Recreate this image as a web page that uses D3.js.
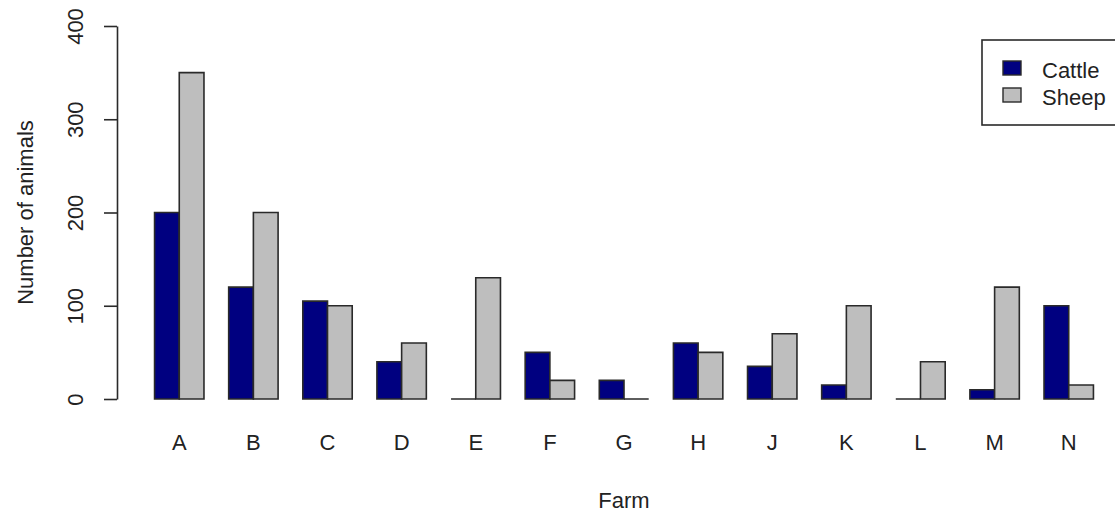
<!DOCTYPE html>
<html>
<head>
<meta charset="utf-8">
<script src="https://cdn.jsdelivr.net/npm/d3@7"></script>
<style>
	body { margin: 0; background: #fff; }
	svg text { font-family: 'Liberation Sans', Arial, sans-serif; font-size: 22px; fill: #222; }
</style>
</head>
<body>
<div id="graphic"></div>
<script>
// chart data
const farms = ['A', 'B', 'C', 'D', 'E', 'F', 'G', 'H', 'J', 'K', 'L', 'M', 'N'];
const cattle = [200, 120, 105, 40, 0, 50, 20, 60, 35, 15, 0, 10, 100];
const sheep = [350, 200, 100, 60, 130, 20, 0, 50, 70, 100, 40, 120, 15];
const seriesNames = ['Cattle', 'Sheep'];
const seriesColours = ['#000080', '#bebebe'];
const yTicks = [0, 100, 200, 300, 400];

let graphic = d3.select('#graphic');

function drawGraphic() {
	let width = 1115, height = 515;

	let svg = graphic
		.append('svg')
		.attr('width', width)
		.attr('height', height);

	//bar units like R barplot: each bar 1 unit wide, 1 unit gap before each group
	const x = d3.scaleLinear().domain([-0.52, 40.52]).range([117, 1131]);
	const y = d3.scaleLinear().domain([0, 400]).range([399, 26]);
	const sub = d3.scaleBand().domain(seriesNames).range([0, 2]);

	let groupLeft = (i) => 1 + 3 * i;

	let data = farms.map((f, i) => ({ farm: f, i: i, values: [cattle[i], sheep[i]] }));

	//bars drawn as paths so that zero bars still show their outline
	let groups = svg.selectAll('g.farm')
		.data(data)
		.join('g')
		.attr('class', 'farm');

	groups.selectAll('path')
		.data((d) => d.values.map((v, k) => ({ i: d.i, key: seriesNames[k], k: k, value: v })))
		.join('path')
		.attr('d', (d) => {
			let x0 = x(groupLeft(d.i) + sub(d.key));
			let x1 = x(groupLeft(d.i) + sub(d.key) + sub.bandwidth());
			let p = d3.path();
			p.moveTo(x0, y(0));
			p.lineTo(x0, y(d.value));
			p.lineTo(x1, y(d.value));
			p.lineTo(x1, y(0));
			p.closePath();
			return p.toString();
		})
		.attr('fill', (d) => seriesColours[d.k])
		.attr('stroke', '#2a2a2a')
		.attr('stroke-width', 1.6);

	//y axis
	let yAxis = d3.axisLeft(y).tickValues(yTicks).tickSize(13).tickSizeOuter(0);
	let ya = svg.append('g')
		.attr('transform', 'translate(117,0)')
		.call(yAxis);
	ya.select('.domain').attr('stroke', '#2a2a2a').attr('stroke-width', 1.6);
	ya.selectAll('.tick line').attr('stroke', '#2a2a2a').attr('stroke-width', 1.6);
	ya.selectAll('.tick text')
		.attr('x', 0)
		.attr('y', -34)
		.attr('dy', null)
		.attr('transform', 'rotate(-90)')
		.attr('text-anchor', 'middle')
		.attr('fill', '#222')
		.style('font-size', '22px');
	ya.attr('font-family', null).attr('font-size', null);

	//category labels
	svg.selectAll('text.xlab')
		.data(farms)
		.join('text')
		.attr('class', 'xlab')
		.attr('x', (d, i) => x(groupLeft(i) + 1))
		.attr('y', 450)
		.attr('text-anchor', 'middle')
		.text((d) => d);

	//axis titles
	svg.append('text')
		.attr('x', x(20))
		.attr('y', 508)
		.attr('text-anchor', 'middle')
		.text('Farm');

	svg.append('text')
		.attr('transform', 'translate(33,' + y(200) + ') rotate(-90)')
		.attr('text-anchor', 'middle')
		.text('Number of animals');

	//legend
	let legend = svg.append('g');
	legend.append('rect')
		.attr('x', 982)
		.attr('y', 40)
		.attr('width', 150)
		.attr('height', 85)
		.attr('fill', '#fff')
		.attr('stroke', '#2a2a2a')
		.attr('stroke-width', 1.6);

	let items = legend.selectAll('g.item')
		.data(seriesNames)
		.join('g')
		.attr('class', 'item')
		.attr('transform', (d, i) => 'translate(0,' + i * 27 + ')');

	items.append('rect')
		.attr('x', 1003)
		.attr('y', 61)
		.attr('width', 18)
		.attr('height', 14)
		.attr('fill', (d, i) => seriesColours[i])
		.attr('stroke', '#2a2a2a')
		.attr('stroke-width', 1.4);

	items.append('text')
		.attr('x', 1042)
		.attr('y', 78)
		.text((d) => d);
}

drawGraphic();
</script>
</body>
</html>
